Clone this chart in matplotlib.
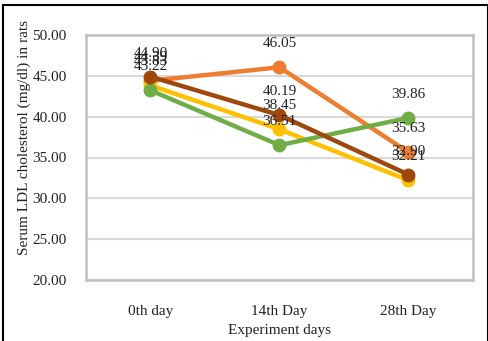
import matplotlib.pyplot as plt
from matplotlib.patches import Rectangle

days = ["0th day", "14th Day", "28th Day"]
orange_vals = [44.39, 46.05, 35.63]
yellow_vals = [43.83, 38.45, 32.21]
green_vals = [43.22, 36.51, 39.86]
brown_vals = [44.90, 40.19, 32.90]

plt.rcParams['font.family'] = ['Liberation Serif', 'DejaVu Serif']

fig = plt.figure(figsize=(4.89, 3.41), dpi=100)
ax = fig.add_axes([86/489, 1 - 280/341, 387/489, 245/341])

x = range(len(days))
series = [
    (orange_vals, '#ED7D31'),
    (yellow_vals, '#FFC000'),
    (green_vals, '#70AD47'),
    (brown_vals, '#9E480E'),
]
for vals, col in series:
    ax.plot(x, vals, color=col, linewidth=3.2, marker='o', markersize=9,
            solid_capstyle='round', zorder=3)
    for xi, v in zip(x, vals):
        ax.annotate("%.2f" % v, (xi, v), xytext=(0, 17), textcoords='offset points',
                    ha='center', va='center', fontsize=11, color='#222222', zorder=4)

ax.set_xlim(-0.5, 2.5)
ax.set_ylim(20, 50)
ax.set_yticks(range(20, 51, 5))
ax.set_yticklabels(["%.2f" % t for t in range(20, 51, 5)])
ax.set_xticks(list(x))
ax.set_xticklabels(days)
ax.tick_params(length=0, labelsize=11, colors='#222222')
ax.tick_params(axis='x', pad=18)
ax.tick_params(axis='y', pad=14)
ax.grid(True, axis='y', color='#d9d9d9', linewidth=1.5, zorder=0)
for s in ax.spines.values():
    s.set_color('#bfbfbf')
    s.set_linewidth(1.8)

ax.set_xlabel("Experiment days", fontsize=11, labelpad=4, color='#222222')
ax.set_ylabel("Serum LDL cholesterol (mg/dl) in rats", fontsize=11, color='#222222')
ax.yaxis.set_label_coords(-0.142, 0.58)

# black frame around the figure
fig.patches.append(Rectangle((3/489, -0.02), 485/489, 1 - 5/341 + 0.02,
                             transform=fig.transFigure, fill=False,
                             edgecolor='black', linewidth=1.5))

fig.savefig("out.png", dpi=100)
